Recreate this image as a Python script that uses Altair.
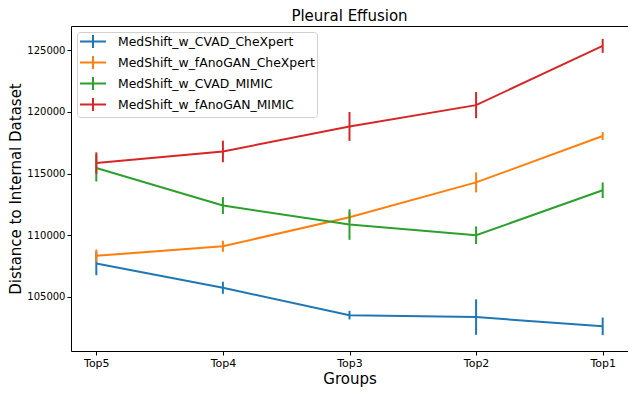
import altair as alt
import pandas as pd

groups = ["Top5", "Top4", "Top3", "Top2", "Top1"]
series_names = [
    "MedShift_w_CVAD_CheXpert",
    "MedShift_w_fAnoGAN_CheXpert",
    "MedShift_w_CVAD_MIMIC",
    "MedShift_w_fAnoGAN_MIMIC",
]
colors = ["#1f77b4", "#ff7f0e", "#2ca02c", "#d62728"]

cvad_chexpert = [107700, 105730, 103510, 103350, 102600]
cvad_chexpert_err = [950, 490, 350, 1440, 715]
fanogan_chexpert = [108320, 109100, 111450, 114280, 118040]
fanogan_chexpert_err = [510, 450, 400, 810, 320]
cvad_mimic = [115450, 112400, 110860, 109990, 113640]
cvad_mimic_err = [1100, 690, 1240, 715, 635]
fanogan_mimic = [115850, 116790, 118820, 120550, 125355]
fanogan_mimic_err = [870, 875, 1170, 1065, 565]

y_ticks = [105000, 110000, 115000, 120000, 125000]

values = [cvad_chexpert, fanogan_chexpert, cvad_mimic, fanogan_mimic]
errors = [cvad_chexpert_err, fanogan_chexpert_err, cvad_mimic_err, fanogan_mimic_err]

rows = []
for s, vals, errs in zip(series_names, values, errors):
    for g, v, e in zip(groups, vals, errs):
        rows.append({"group": g, "series": s, "value": v, "lo": v - e, "hi": v + e})
df = pd.DataFrame(rows)

x_enc = alt.X("group:N", sort=groups, title="Groups",
              scale=alt.Scale(type="point", padding=0.2),
              axis=alt.Axis(labelAngle=0, labelFontSize=11, titlePadding=3))
y_scale = alt.Scale(domain=[100600, 126970], nice=False, zero=False)
color_enc = alt.Color("series:N", sort=series_names,
                      scale=alt.Scale(domain=series_names, range=colors),
                      legend=alt.Legend(title=None, orient="top-left", offset=6,
                                        symbolType="M-1,0H3M1,-1V1",
                                        symbolSize=169, symbolStrokeWidth=2,
                                        symbolFillColor="transparent",
                                        labelFontSize=12.4, labelLimit=400,
                                        labelOffset=24, rowPadding=0,
                                        padding=2, strokeColor="#d0d0d0",
                                        fillColor="white", cornerRadius=3))

line = alt.Chart(df).mark_line(strokeWidth=2).encode(
    x=x_enc,
    y=alt.Y("value:Q", scale=y_scale, title="Distance to Internal Dataset",
            axis=alt.Axis(values=y_ticks, format="d", labelFontSize=10, titlePadding=3)),
    color=color_enc,
)
bars = alt.Chart(df).mark_rule(strokeWidth=2).encode(
    x=x_enc,
    y=alt.Y("lo:Q", scale=y_scale),
    y2="hi:Q",
    color=color_enc,
)

chart = alt.layer(line, bars).properties(
    width=557, height=325,
    title=alt.TitleParams("Pleural Effusion", fontSize=15, fontWeight="normal",
                          anchor="middle", offset=2, color="black"),
    autosize=alt.AutoSizeParams(type="none"),
    padding={"left": 63, "top": 18, "right": 0, "bottom": 38},
).configure(font="DejaVu Sans").configure_view(
    stroke="black", strokeWidth=1
).configure_axis(
    grid=False, domain=False, tickColor="black", tickSize=4, labelColor="black",
    titleFontSize=15, titleFontWeight="normal", titleColor="black",
    labelPadding=2,
)

chart.save("out.html", embed_options={"renderer": "svg", "actions": False})
